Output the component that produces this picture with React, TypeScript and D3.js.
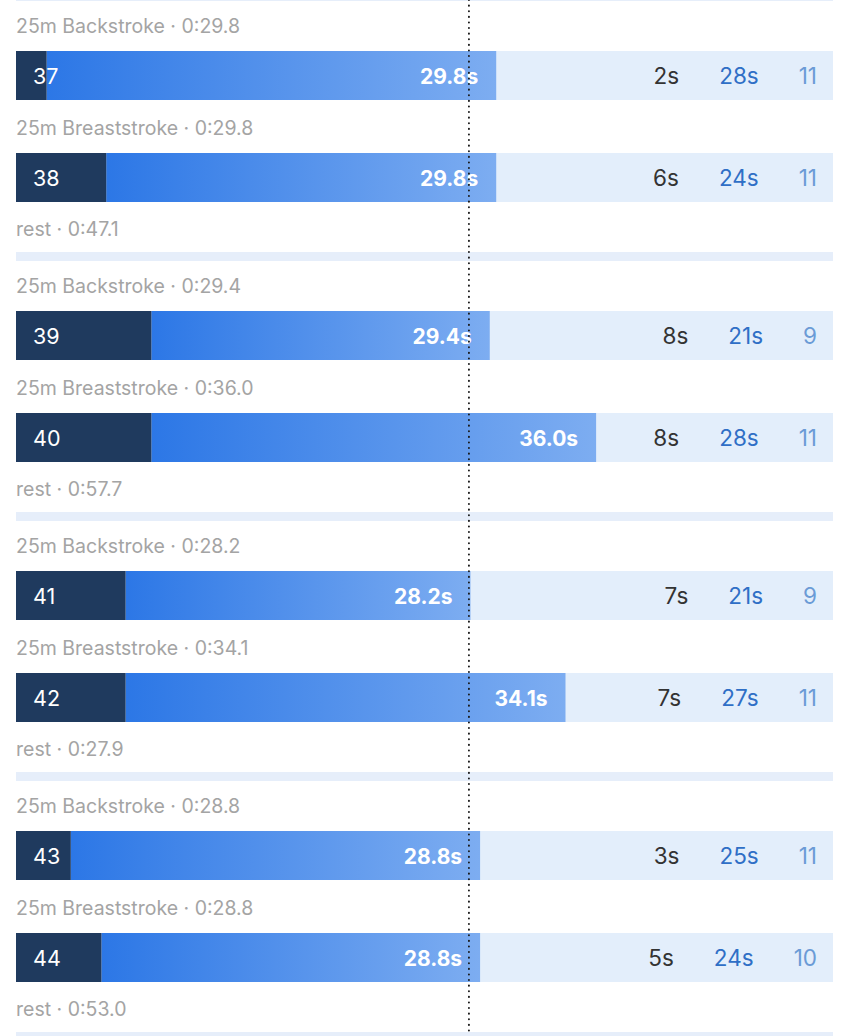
import React, { useEffect, useRef } from "react";
import * as d3 from "d3";

const repNumbers = [37, 38, 39, 40, 41, 42, 43, 44];
const strokeNames = [
  "25m Backstroke",
  "25m Breaststroke",
  "25m Backstroke",
  "25m Breaststroke",
  "25m Backstroke",
  "25m Breaststroke",
  "25m Backstroke",
  "25m Breaststroke",
];
const repTimes = [29.8, 29.8, 29.4, 36.0, 28.2, 34.1, 28.8, 28.8];
const underwaterTimes = [1.9, 5.6, 8.4, 8.4, 6.8, 6.8, 3.4, 5.3];
const underwaterLabels = [2, 6, 8, 8, 7, 7, 3, 5];
const swimLabels = [28, 24, 21, 28, 21, 27, 25, 24];
const strokeCounts = [11, 11, 9, 11, 9, 11, 11, 10];
const restTimes = ["0:47.1", "0:57.7", "0:27.9", "0:53.0"];
const referenceTime = 28.2;

const W = 850;
const H = 1036;
const FONT = "Inter, 'Noto Sans', sans-serif";

export default function App() {
  const ref = useRef<SVGSVGElement | null>(null);

  useEffect(() => {
    const svg = d3.select(ref.current);
    svg.selectAll("*").remove();

    const x = d3.scaleLinear().domain([0, 50.7]).range([16, 833]);
    const groupBase = (g: number) => 33 + 260 * g;
    const barH = 49;

    const defs = svg.append("defs");
    const grad = defs
      .append("linearGradient")
      .attr("id", "barGrad")
      .attr("x1", "0")
      .attr("x2", "1")
      .attr("y1", "0")
      .attr("y2", "0");
    grad.append("stop").attr("offset", "0").attr("stop-color", "#2c77e6");
    grad.append("stop").attr("offset", "1").attr("stop-color", "#7dadf1");

    // separator bands (including the one above the first group)
    const groups = d3.range(-1, restTimes.length);
    svg
      .selectAll("rect.band")
      .data(groups)
      .join("rect")
      .attr("class", "band")
      .attr("x", x(0))
      .attr("width", x.range()[1] - x(0))
      .attr("y", (g) => groupBase(g) + 219)
      .attr("height", 9)
      .attr("fill", "#e6eefa");

    // rest labels
    svg
      .selectAll("text.rest")
      .data(restTimes)
      .join("text")
      .attr("class", "rest")
      .attr("x", x(0))
      .attr("y", (_, g) => groupBase(g) + 203)
      .attr("font-family", FONT)
      .attr("font-size", 19.5)
      .attr("fill", "#a4a4a4")
      .text((d) => `rest · ${d}`);

    repNumbers.forEach((rep, i) => {
      const g = Math.floor(i / 2);
      const k = i % 2;
      const base = groupBase(g) + k * 102;
      const top = base + 18;
      const row = svg.append("g");

      row
        .append("text")
        .attr("x", x(0))
        .attr("y", base)
        .attr("font-family", FONT)
        .attr("font-size", 19.5)
        .attr("fill", "#a4a4a4")
        .text(`${strokeNames[i]} · 0:${repTimes[i].toFixed(1)}`);

      row
        .append("rect")
        .attr("x", x(0))
        .attr("y", top)
        .attr("width", x.range()[1] - x(0))
        .attr("height", barH)
        .attr("fill", "#e3eefb");

      row
        .append("rect")
        .attr("x", x(underwaterTimes[i]))
        .attr("y", top)
        .attr("width", x(repTimes[i]) - x(underwaterTimes[i]))
        .attr("height", barH)
        .attr("fill", "url(#barGrad)");

      row
        .append("rect")
        .attr("x", x(0))
        .attr("y", top)
        .attr("width", x(underwaterTimes[i]) - x(0))
        .attr("height", barH)
        .attr("fill", "#1f3a5e");

      const ty = top + barH / 2 + 8;
      row
        .append("text")
        .attr("x", x(0) + 17)
        .attr("y", ty)
        .attr("font-family", FONT)
        .attr("font-size", 21.5)
        .attr("fill", "#ffffff")
        .text(rep);

      row
        .append("text")
        .attr("x", x(repTimes[i]) - 18)
        .attr("y", ty)
        .attr("text-anchor", "end")
        .attr("font-family", FONT)
        .attr("font-size", 21)
        .attr("font-weight", 700)
        .attr("fill", "#ffffff")
        .text(`${repTimes[i].toFixed(1)}s`);

      // right-aligned flex columns
      const gap = 40;
      let right = 817;
      const cols = [
        { t: `${strokeCounts[i]}`, c: "#6b9bd6" },
        { t: `${swimLabels[i]}s`, c: "#2f6fc6" },
        { t: `${underwaterLabels[i]}s`, c: "#333333" },
      ];
      cols.forEach((col) => {
        const t = row
          .append("text")
          .attr("x", right)
          .attr("y", ty)
          .attr("text-anchor", "end")
          .attr("font-family", FONT)
          .attr("font-size", 22.5)
          .attr("fill", col.c)
          .text(col.t);
        const w = (t.node() as SVGTextElement).getComputedTextLength();
        right = right - w - gap;
      });
    });

    // dotted reference line
    svg
      .append("line")
      .attr("x1", x(referenceTime) - 1.5)
      .attr("x2", x(referenceTime) - 1.5)
      .attr("y1", 0)
      .attr("y2", H)
      .attr("stroke", "#1a1a1a")
      .attr("stroke-width", 2)
      .attr("stroke-linecap", "round")
      .attr("stroke-dasharray", "0.1 5.5");
  }, []);

  return (
    <svg
      ref={ref}
      width={W}
      height={H}
      style={{ position: "absolute", left: 0, top: 0, background: "#ffffff", display: "block" }}
    />
  );
}
